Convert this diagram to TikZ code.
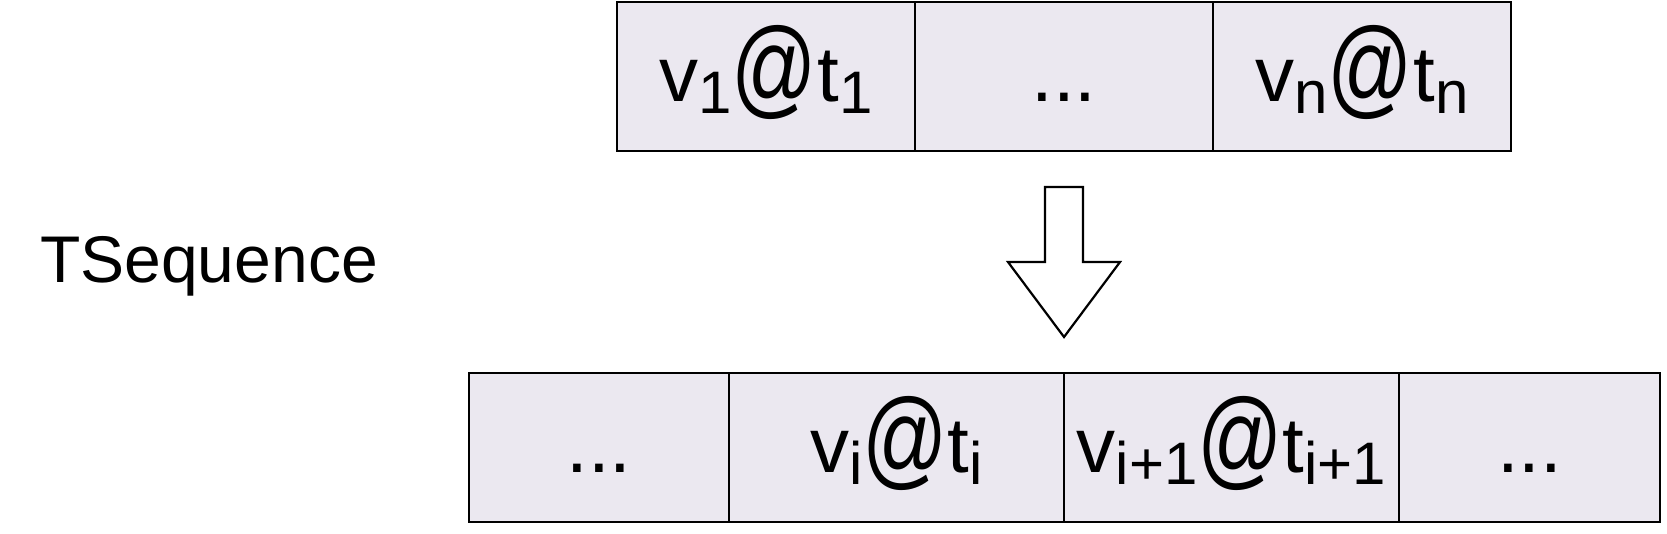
\documentclass[tikz,border=0pt]{standalone}
\usepackage{fontspec}
\usepackage{graphicx}
\setmainfont{Liberation Sans}
\definecolor{cellfill}{RGB}{235,232,240}
\newcommand{\lowsub}[1]{\raisebox{-12pt}{\fontsize{60}{60}\selectfont #1}}
\newcommand{\bigat}{\raisebox{-3pt}{\scalebox{1.08}[1.4]{@}}}
\begin{document}
\begin{tikzpicture}[x=1pt,y=-1pt,
  cell/.style={draw=black, line width=2.2pt, fill=cellfill, rectangle, inner sep=0pt,
    minimum height=149pt, text height=55pt, text depth=5pt,
    font=\fontsize{78}{80}\selectfont},
  topcell/.style={cell, minimum width=298pt},
  arrowshape/.style={draw=black, line width=2.2pt, fill=white, line join=miter}]
\useasboundingbox (0,0) rectangle (1667,533);
% top row
\node[topcell] (t1) at (766,76.5) {v\lowsub{1}\bigat t\lowsub{1}};
\node[topcell] (t2) at (1064,76.5) {...};
\node[topcell] (t3) at (1362,76.5) {v\lowsub{n}\bigat t\lowsub{n}};
% bottom row
\node[cell, minimum width=260pt] (b1) at (599,447.5) {...};
\node[cell, minimum width=335pt] (b2) at (896.5,447.5) {v\lowsub{i}\bigat t\lowsub{i}};
\node[cell, minimum width=335pt] (b3) at (1231.5,447.5) {v\lowsub{i+1}\bigat t\lowsub{i+1}};
\node[cell, minimum width=261pt] (b4) at (1529.5,447.5) {...};
% label
\node[anchor=base west, inner sep=0pt, font=\fontsize{66}{68}\selectfont] (lbl) at (40,282) {TSequence};
% block arrow
\draw[arrowshape] (1045,187) -- (1083,187) -- (1083,262) -- (1120,262) -- (1064,337)
  -- (1008,262) -- (1045,262) -- cycle;
\end{tikzpicture}
\end{document}
